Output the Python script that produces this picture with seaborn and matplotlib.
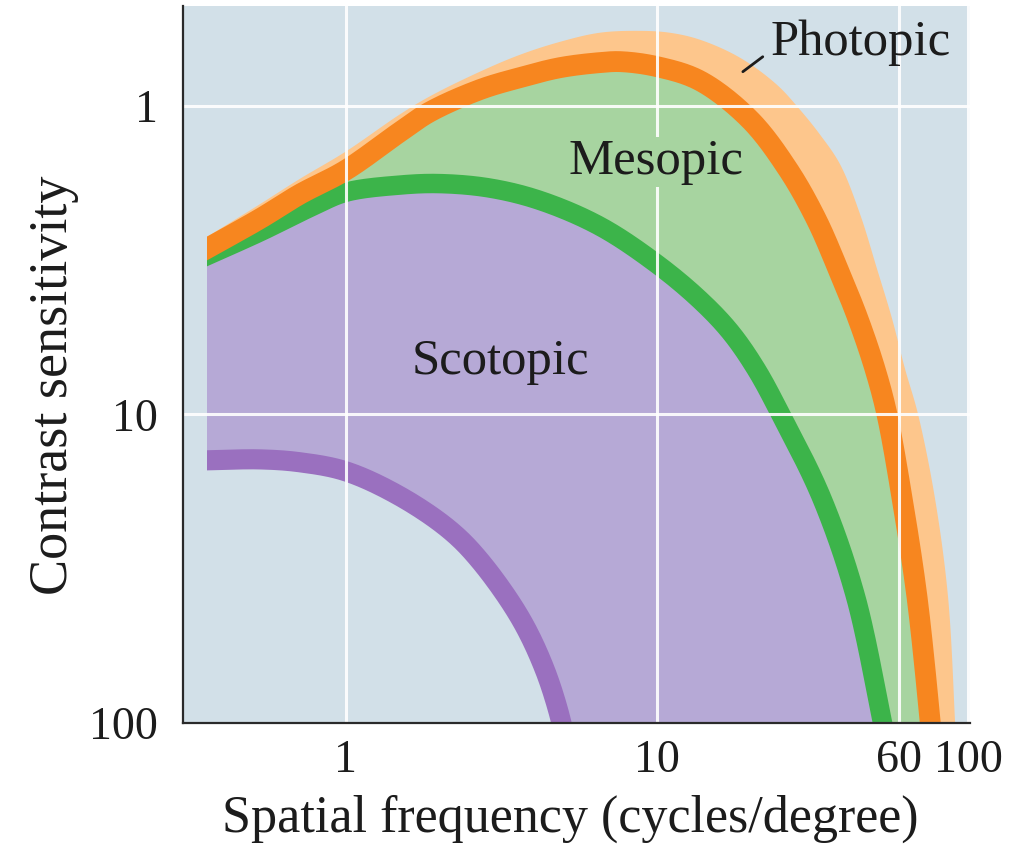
import numpy as np
import pandas as pd
import matplotlib
matplotlib.use("Agg")
import matplotlib.pyplot as plt
import seaborn as sns
from matplotlib.patches import Rectangle

# ---------------- data ----------------
# outer edge of the light-orange photopic band
photopic_edge_freq = [0.357, 0.529, 0.711, 1.0, 1.49, 1.86, 2.70, 3.63, 4.88, 6.56, 8.82,
                      11.0, 13.75, 18.5, 24.3, 28.8, 33.4, 38.8, 45.0, 51.0, 57.0, 62.7, 69.1,
                      78.3, 86.3, 90.8, 91.5]
photopic_edge_sens = [2.67, 2.09, 1.73, 1.41, 1.07, 0.935, 0.777, 0.685, 0.622, 0.581, 0.573,
                      0.581, 0.612, 0.700, 0.856, 1.03, 1.24, 1.55, 2.25, 3.38, 4.90, 7.11, 10.0,
                      18.7, 39.2, 97.8, 115.0]
# photopic curve (orange)
photopic_freq = [0.357, 0.529, 0.711, 1.0, 1.49, 1.86, 2.70, 3.63, 4.88, 6.56, 7.68, 10.0,
                 13.75, 19.9, 26.4, 32.5, 38.2, 44.3, 50.2, 54.9, 61.4, 68.6, 75.5, 76.6]
photopic_sens = [2.91, 2.33, 1.94, 1.62, 1.22, 1.05, 0.888, 0.812, 0.754, 0.726, 0.721, 0.748,
                 0.831, 1.11, 1.61, 2.33, 3.38, 4.90, 7.11, 10.0, 18.7, 39.2, 97.8, 115.0]
# mesopic curve (green)
mesopic_freq = [0.357, 0.529, 0.783, 1.0, 1.49, 2.01, 2.90, 4.21, 6.56, 10.0, 13.75, 17.2,
                20.8, 25.0, 33.9, 43.6, 52.9, 54.7]
mesopic_sens = [3.07, 2.57, 2.12, 1.91, 1.81, 1.79, 1.85, 2.03, 2.46, 3.26, 4.26, 5.40,
                7.11, 10.0, 18.7, 39.2, 97.8, 115.0]
# scotopic curve (purple)
scotopic_freq = [0.357, 0.529, 0.711, 1.0, 1.49, 2.16, 2.70, 3.63, 4.36, 4.91, 5.06]
scotopic_sens = [14.1, 14.0, 14.3, 15.3, 18.4, 23.7, 29.8, 45.5, 67.0, 97.8, 115.0]

x_ticks = [1, 10, 60, 100]
x_tick_labels = ["1", "10", "60", "100"]
y_ticks = [1, 10, 100]
y_tick_labels = ["1", "10", "100"]


def smooth_path(xs, ys, n=24, alpha=0.5):
    """Centripetal Catmull-Rom rendering of the read points in log-log space."""
    P = np.column_stack([np.log10(xs), np.log10(ys)])
    P = np.vstack([2 * P[0] - P[1], P, 2 * P[-1] - P[-2]])
    out = []
    for i in range(1, len(P) - 2):
        p0, p1, p2, p3 = P[i - 1], P[i], P[i + 1], P[i + 2]
        t0 = 0.0
        t1 = t0 + np.linalg.norm(p1 - p0) ** alpha
        t2 = t1 + np.linalg.norm(p2 - p1) ** alpha
        t3 = t2 + np.linalg.norm(p3 - p2) ** alpha
        t = np.linspace(t1, t2, n, endpoint=False)[:, None]
        A1 = (t1 - t) / (t1 - t0) * p0 + (t - t0) / (t1 - t0) * p1
        A2 = (t2 - t) / (t2 - t1) * p1 + (t - t1) / (t2 - t1) * p2
        A3 = (t3 - t) / (t3 - t2) * p2 + (t - t2) / (t3 - t2) * p3
        B1 = (t2 - t) / (t2 - t0) * A1 + (t - t0) / (t2 - t0) * A2
        B2 = (t3 - t) / (t3 - t1) * A2 + (t - t1) / (t3 - t1) * A3
        C = (t2 - t) / (t2 - t1) * B1 + (t - t1) / (t2 - t1) * B2
        out.append(C)
    out.append(P[-2][None, :])
    pts = np.vstack(out)
    return 10 ** pts[:, 0], 10 ** pts[:, 1]


# ---------------- style ----------------
sns.set_theme(style="white")
plt.rcParams['font.family'] = ['Liberation Serif', 'DejaVu Serif']

BG = "#d2e0e8"
LIGHT_ORANGE = "#fdc68c"
ORANGE = "#f7861f"
LIGHT_GREEN = "#a7d4a0"
GREEN = "#3cb44a"
LIGHT_PURPLE = "#b6a9d6"
PURPLE = "#9a70bf"
INK = "#1c1c1c"

fig = plt.figure(figsize=(10.19, 8.65), dpi=100)
fig.patch.set_facecolor("white")
ax = fig.add_axes([183 / 1019, 1 - 723 / 865, 787 / 1019, 717 / 865])
ax.set_facecolor(BG)
ax.set_xscale("log")
ax.set_yscale("log")
XMIN, XMAX = 0.3, 101.5
ax.set_xlim(XMIN, XMAX)
ax.set_ylim(100, 0.476)

BOTTOM = 300.0
START = photopic_freq[0]

clip = Rectangle((START, 0.476), 1000, 100 - 0.476, transform=ax.transData,
                 facecolor="none", edgecolor="none")


def fill_under(xs, ys, color, clipped=True):
    sx, sy = smooth_path(xs, ys)
    px = np.concatenate([[XMIN * 0.9], sx, [sx[-1], XMIN * 0.9]])
    py = np.concatenate([[sy[0]], sy, [BOTTOM, BOTTOM]])
    patches = ax.fill(px, py, color=color, lw=0, zorder=1)
    if clipped:
        for p in patches:
            p.set_clip_path(clip)


fill_under(photopic_edge_freq, photopic_edge_sens, LIGHT_ORANGE)
fill_under(photopic_freq, photopic_sens, LIGHT_GREEN)
fill_under(mesopic_freq, mesopic_sens, LIGHT_PURPLE)
fill_under(scotopic_freq, scotopic_sens, BG, clipped=False)

curves = [
    (scotopic_freq, scotopic_sens, PURPLE, 14.5),
    (mesopic_freq, mesopic_sens, GREEN, 14.0),
    (photopic_freq, photopic_sens, ORANGE, 15.0),
]
for fx, sy, col, lw in curves:
    sx, syy = smooth_path(fx, sy)
    n_before = len(ax.lines)
    sns.lineplot(x=sx, y=syy, sort=False, estimator=None, color=col, linewidth=lw,
                 ax=ax, legend=False)
    for ln in ax.lines[n_before:]:
        ln.set_solid_capstyle("projecting")
        ln.set_solid_joinstyle("round")
        ln.set_clip_path(clip)
        ln.set_zorder(2)

# grid, spines, ticks
ax.set_axisbelow(False)
ax.grid(True, which="major", color="white", linewidth=2.2, alpha=0.9)
ax.grid(False, which="minor")
sns.despine(ax=ax)
for s in ["left", "bottom"]:
    ax.spines[s].set_color("#2a2a2a")
    ax.spines[s].set_linewidth(1.6)
    ax.spines[s].set_zorder(4)

ax.set_xticks(x_ticks, x_tick_labels)
ax.set_yticks(y_ticks, y_tick_labels)
ax.minorticks_off()
ax.tick_params(axis="both", direction="in", length=16, width=1.6, color="#222233",
               labelsize=33, labelcolor=INK)
ax.tick_params(axis="x", pad=12)
ax.tick_params(axis="y", pad=18)

ax.set_xlabel("Spatial frequency (cycles/degree)", fontsize=37.5, color=INK)
ax.set_ylabel("Contrast sensitivity", fontsize=39, color=INK)
ax.xaxis.set_label_coords(0.492, -0.10)
ax.yaxis.set_label_coords(-0.132, 0.471)

# region labels
ax.text(45.3, 0.685, "Photopic", fontsize=36.5, color=INK, ha="center", va="baseline", zorder=5)
ax.text(9.93, 1.67, "Mesopic", fontsize=36.5, color=INK, ha="center", va="baseline", zorder=5,
        bbox=dict(facecolor=LIGHT_GREEN, edgecolor="none", pad=1))
ax.text(3.15, 7.43, "Scotopic", fontsize=36.5, color=INK, ha="center", va="baseline", zorder=5)
ax.plot([18.9, 21.9], [0.777, 0.695], color=INK, linewidth=2, zorder=5)

fig.savefig("out.png", dpi=100, facecolor="white")
